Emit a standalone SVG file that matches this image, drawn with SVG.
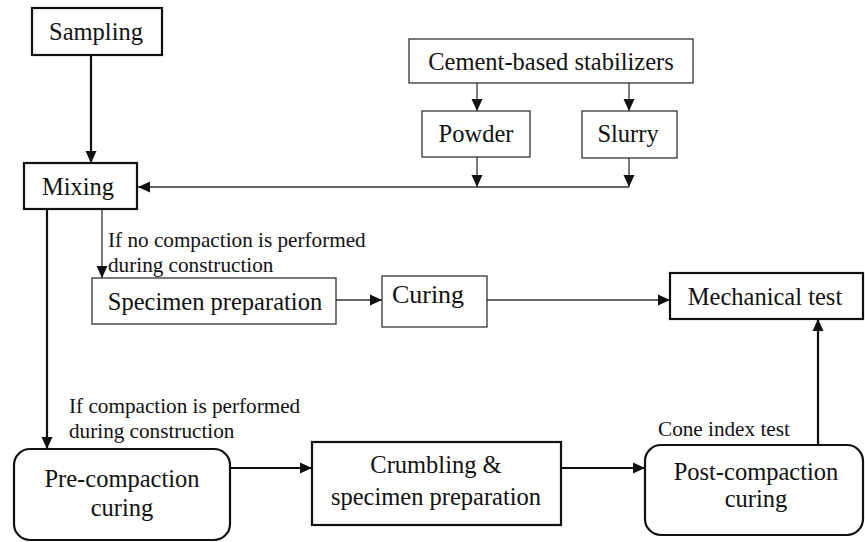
<svg xmlns="http://www.w3.org/2000/svg" width="865" height="542" viewBox="0 0 865 542">
<style>
text{font-family:'Liberation Serif','Times New Roman',serif;fill:#111;}
.lbl{font-size:24.5px;text-anchor:middle;}
.ann{font-size:21.2px;}
.thick{fill:#fff;stroke:#111;stroke-width:2.2;}
.thin{fill:#fff;stroke:#333;stroke-width:1.3;}
.c1{fill:none;stroke:#111;stroke-width:2.2;}
.c2{fill:none;stroke:#333;stroke-width:1.3;}
</style>
<defs>
<marker id="ah" markerUnits="userSpaceOnUse" markerWidth="12" markerHeight="12" viewBox="0 0 12 12" refX="12" refY="6" orient="auto">
<path d="M0,0.5 L12,6 L0,11.5 Z" fill="#111"/>
</marker>
</defs>
<g id="connectors">
<line class="c1" x1="91" y1="55" x2="91" y2="163" marker-end="url(#ah)"/>
<line class="c2" x1="477" y1="83" x2="477" y2="111" marker-end="url(#ah)"/>
<line class="c2" x1="629" y1="83" x2="629" y2="111" marker-end="url(#ah)"/>
<line class="c2" x1="477" y1="157" x2="477" y2="187" marker-end="url(#ah)"/>
<line class="c2" x1="629" y1="158" x2="629" y2="187" marker-end="url(#ah)"/>
<line class="c2" x1="629" y1="187" x2="138" y2="187" marker-end="url(#ah)"/>
<line class="c2" x1="102" y1="209" x2="102" y2="278" marker-end="url(#ah)"/>
<line class="c1" x1="47" y1="209" x2="47" y2="449" marker-end="url(#ah)"/>
<line class="c2" x1="336" y1="300" x2="382" y2="300" marker-end="url(#ah)"/>
<line class="c2" x1="487" y1="300" x2="670" y2="300" marker-end="url(#ah)"/>
<line class="c1" x1="230" y1="468" x2="312" y2="468" marker-end="url(#ah)"/>
<line class="c1" x1="561" y1="468" x2="645" y2="468" marker-end="url(#ah)"/>
<line class="c1" x1="818" y1="445" x2="818" y2="319" marker-end="url(#ah)"/>
</g>
<g id="sampling">
<rect class="thick" x="32" y="8" width="130" height="47"/>
<text class="lbl" x="96" y="40">Sampling</text>
</g>
<g id="cement">
<rect class="thin" x="409" y="39" width="284" height="44"/>
<text class="lbl" x="551" y="70">Cement-based stabilizers</text>
</g>
<g id="powder">
<rect class="thin" x="422" y="111" width="108" height="46"/>
<text class="lbl" x="476" y="142">Powder</text>
</g>
<g id="slurry">
<rect class="thin" x="582" y="111" width="95" height="47"/>
<text class="lbl" x="628" y="142">Slurry</text>
</g>
<g id="mixing">
<rect class="thick" x="24" y="163" width="113" height="46"/>
<text class="lbl" x="78" y="195">Mixing</text>
</g>
<g id="note-no-compaction">
<text class="ann" x="108" y="247">If no compaction is performed</text>
<text class="ann" x="108" y="272">during construction</text>
</g>
<g id="specimen">
<rect class="thin" x="92" y="278" width="244" height="46"/>
<text class="lbl" x="215" y="310">Specimen preparation</text>
</g>
<g id="curing">
<rect class="thin" x="382" y="276" width="105" height="51"/>
<text class="lbl" x="428" y="303" style="font-size:26px">Curing</text>
</g>
<g id="mechanical">
<rect class="thick" x="670" y="273" width="193" height="46"/>
<text class="lbl" x="765" y="305">Mechanical test</text>
</g>
<g id="note-compaction">
<text class="ann" x="69" y="413">If compaction is performed</text>
<text class="ann" x="69" y="438">during construction</text>
</g>
<g id="precompaction">
<rect class="thick" x="14" y="449" width="216" height="91" rx="16" ry="16"/>
<text class="lbl" x="122" y="487">Pre-compaction</text>
<text class="lbl" x="122" y="516">curing</text>
</g>
<g id="crumbling">
<rect class="thick" x="312" y="442" width="249" height="83"/>
<text class="lbl" x="436" y="473">Crumbling &amp;</text>
<text class="lbl" x="436" y="505">specimen preparation</text>
</g>
<g id="note-cone">
<text class="ann" x="658" y="436">Cone index test</text>
</g>
<g id="postcompaction">
<rect class="thick" x="645" y="445" width="218" height="90" rx="16" ry="16"/>
<text class="lbl" x="756" y="480">Post-compaction</text>
<text class="lbl" x="756" y="507">curing</text>
</g>
</svg>
